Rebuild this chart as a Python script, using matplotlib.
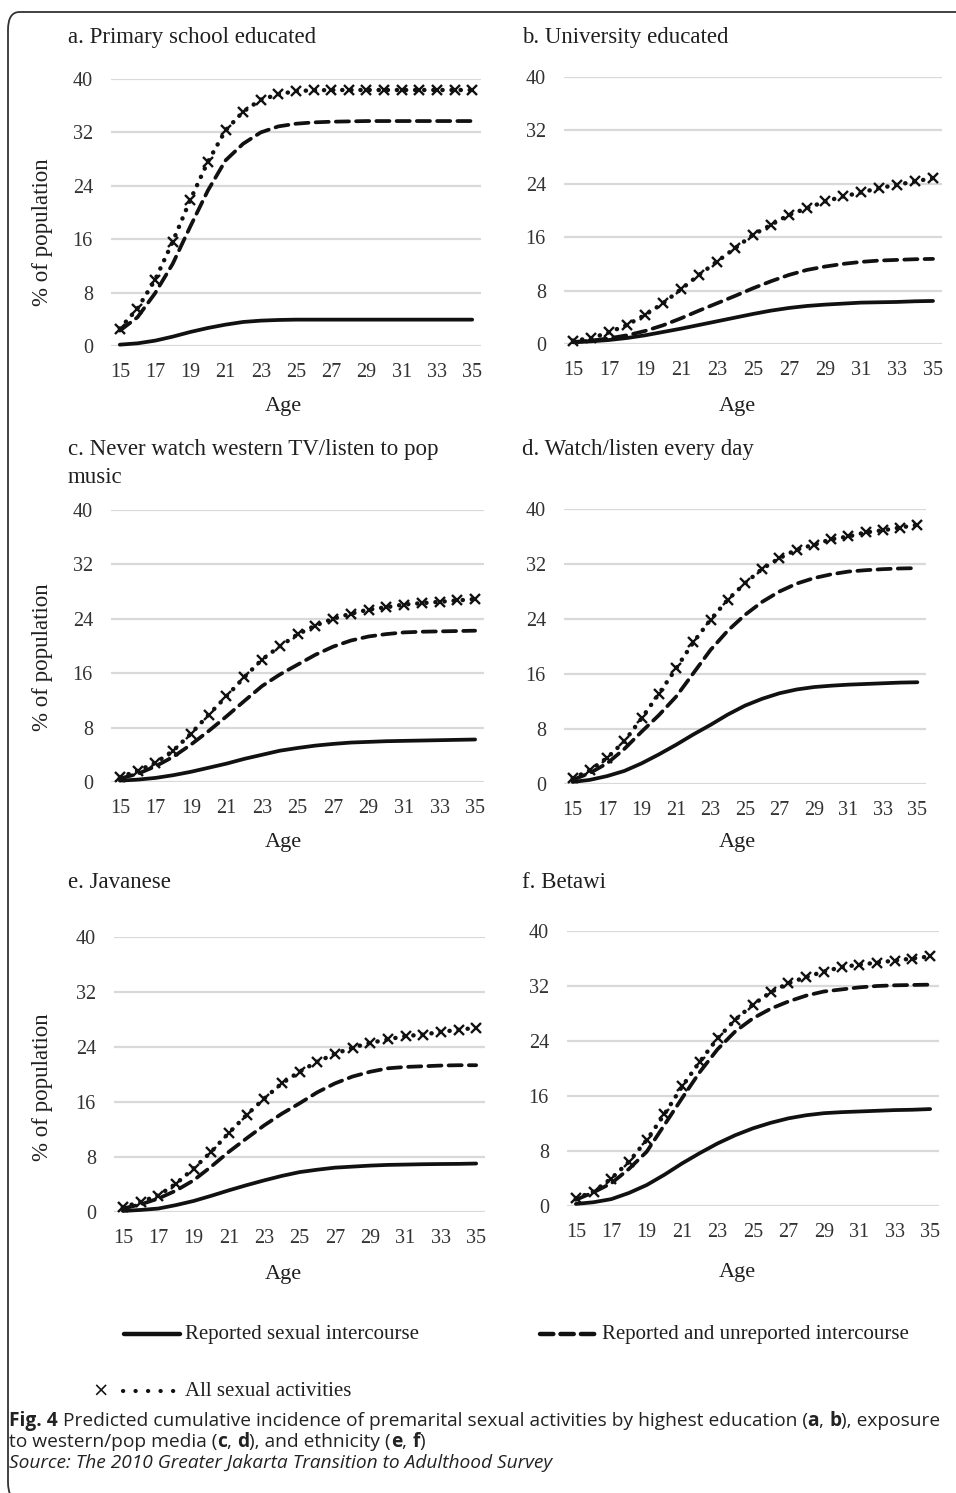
import matplotlib
matplotlib.use("Agg")
import matplotlib.pyplot as plt
from matplotlib.patches import FancyBboxPatch
from matplotlib.lines import Line2D

ages = list(range(15, 36))
tick_ages = list(range(15, 36, 2))
y_ticks = [0, 8, 16, 24, 32, 40]

titles = [["a. Primary school educated"], ["b. University educated"],
          ["c. Never watch western TV/listen to pop", "music"], ["d. Watch/listen every day"],
          ["e. Javanese"], ["f. Betawi"]]

# Reported sexual intercourse (solid)
rep_a = [0.2, 0.4, 0.8, 1.4, 2.1, 2.7, 3.2, 3.6, 3.8, 3.9, 3.95, 3.95, 3.95, 3.95, 3.95, 3.95, 3.95, 3.95, 3.95, 3.95, 3.95]
rep_b = [0.25, 0.4, 0.6, 0.9, 1.3, 1.8, 2.3, 2.85, 3.4, 3.95, 4.5, 5.0, 5.4, 5.7, 5.9, 6.05, 6.2, 6.25, 6.3, 6.4, 6.45]
rep_c = [0.2, 0.35, 0.6, 1.0, 1.5, 2.1, 2.7, 3.4, 4.0, 4.6, 5.0, 5.35, 5.6, 5.8, 5.9, 6.0, 6.05, 6.1, 6.15, 6.2, 6.25]
rep_d = [0.3, 0.6, 1.15, 1.9, 3.0, 4.3, 5.7, 7.2, 8.6, 10.1, 11.4, 12.4, 13.2, 13.75, 14.1, 14.3, 14.45, 14.55, 14.65, 14.75, 14.8]
rep_e = [0.15, 0.3, 0.5, 1.0, 1.6, 2.35, 3.15, 3.9, 4.6, 5.25, 5.8, 6.15, 6.45, 6.6, 6.75, 6.85, 6.9, 6.95, 6.98, 7.0, 7.05]
rep_f = [0.3, 0.55, 1.0, 1.9, 3.05, 4.55, 6.2, 7.7, 9.1, 10.3, 11.3, 12.1, 12.75, 13.2, 13.5, 13.65, 13.75, 13.85, 13.95, 14.0, 14.1]

# Reported and unreported intercourse (dashed)
unr_a = [2.3, 4.3, 7.9, 12.3, 17.9, 23.3, 27.8, 30.3, 32.0, 32.9, 33.3, 33.5, 33.6, 33.65, 33.7, 33.7, 33.7, 33.7, 33.7, 33.7, 33.7]
unr_b = [0.3, 0.5, 0.85, 1.3, 1.95, 2.8, 3.85, 5.0, 6.1, 7.2, 8.35, 9.4, 10.35, 11.1, 11.6, 12.0, 12.3, 12.5, 12.6, 12.7, 12.75]
unr_c = [0.5, 1.2, 2.3, 3.7, 5.5, 7.5, 9.65, 11.9, 14.1, 15.8, 17.25, 18.7, 19.9, 20.8, 21.4, 21.75, 22.0, 22.1, 22.15, 22.2, 22.25]
unr_d = [0.6, 1.6, 3.0, 5.1, 7.6, 10.0, 12.7, 16.1, 19.5, 22.3, 24.6, 26.5, 28.0, 29.15, 29.95, 30.5, 30.9, 31.1, 31.25, 31.35, 31.4]
unr_e = [0.5, 1.1, 1.95, 3.1, 4.6, 6.6, 8.75, 10.7, 12.6, 14.3, 15.8, 17.4, 18.7, 19.7, 20.4, 20.9, 21.1, 21.2, 21.3, 21.35, 21.35]
unr_f = [0.9, 2.0, 3.3, 5.4, 7.9, 11.8, 15.7, 19.5, 22.8, 25.4, 27.3, 28.7, 29.75, 30.6, 31.2, 31.5, 31.8, 32.0, 32.1, 32.15, 32.2]

# All sexual activities (dotted with x markers)
all_a = [2.6, 5.6, 9.9, 15.6, 21.9, 27.6, 32.3, 35.1, 36.9, 37.7, 38.2, 38.3, 38.35, 38.35, 38.35, 38.35, 38.35, 38.35, 38.35, 38.35, 38.35]
all_b = [0.5, 0.85, 1.75, 2.85, 4.35, 6.1, 8.2, 10.35, 12.35, 14.35, 16.35, 17.85, 19.35, 20.35, 21.35, 22.1, 22.7, 23.35, 23.85, 24.35, 24.85]
all_c = [0.7, 1.65, 2.8, 4.6, 7.1, 9.9, 12.6, 15.4, 18.0, 19.95, 21.7, 23.0, 24.0, 24.75, 25.35, 25.7, 26.1, 26.3, 26.5, 26.7, 26.9]
all_d = [0.8, 2.0, 3.8, 6.2, 9.55, 13.1, 16.8, 20.6, 23.9, 26.8, 29.2, 31.3, 32.85, 34.1, 34.8, 35.6, 36.0, 36.6, 36.9, 37.3, 37.7]
all_e = [0.7, 1.45, 2.4, 4.1, 6.3, 8.75, 11.5, 14.1, 16.5, 18.7, 20.4, 21.85, 23.0, 23.9, 24.6, 25.1, 25.6, 25.8, 26.2, 26.5, 26.8]
all_f = [1.1, 2.1, 4.0, 6.45, 9.6, 13.35, 17.4, 21.0, 24.4, 27.1, 29.3, 31.1, 32.4, 33.3, 34.1, 34.75, 35.1, 35.4, 35.7, 36.0, 36.3]

legend_labels = ["Reported sexual intercourse", "Reported and unreported intercourse", "All sexual activities"]

reported = [rep_a, rep_b, rep_c, rep_d, rep_e, rep_f]
unreported = [unr_a, unr_b, unr_c, unr_d, unr_e, unr_f]
allsex = [all_a, all_b, all_c, all_d, all_e, all_f]

W, H = 956, 1493
fig = plt.figure(figsize=(W / 100, H / 100), dpi=100)
SERIF = ["Liberation Serif", "DejaVu Serif"]
TXT = "#1f1f1f"
TICK = "#333333"
INK = "#111111"


def fx(x):
    return x / W


def fy(y):
    return 1 - y / H


# panel geometry in pixels: left, right, y of 40, y of 0
geoms = [(111, 481, 79, 346), (564, 942, 77, 344),
         (111, 484, 510, 782), (564, 926, 509, 784),
         (114, 485, 937, 1212), (567, 939, 931, 1206)]
title_pos = [(68, 37), (522, 37), (68, 450), (522, 450), (68, 883), (522, 883)]
age_pos = [(283, 407), (737, 407), (283, 842), (737, 842), (283, 1275), (737, 1273)]
ylab_pos = [(43, 232), None, (43, 657), None, (43, 1087), None]

for i, (l, r, t, b) in enumerate(geoms):
    ax = fig.add_axes([l / W, 1 - b / H, (r - l) / W, (b - t) / H])
    ax.set_xlim(14.5, 35.5)
    ax.set_ylim(0, 40)
    for s in ax.spines.values():
        s.set_visible(False)
    ax.set_yticks(y_ticks)
    ax.set_xticks(tick_ages)
    ax.tick_params(length=0, labelsize=14.5, labelcolor=TICK)
    ax.tick_params(axis="y", pad=13)
    ax.tick_params(axis="x", pad=12)
    for lab in ax.get_xticklabels() + ax.get_yticklabels():
        lab.set_family(SERIF)
    ax.grid(axis="y", color="#d9d9d9", lw=1.6)
    ax.set_axisbelow(True)
    ax.plot(ages, reported[i], color=INK, lw=2.7, solid_capstyle="round", clip_on=False)
    ax.plot(ages, unreported[i], color=INK, lw=2.7, linestyle=(0, (3.5, 1.9)),
            dash_capstyle="round", clip_on=False)
    ax.plot(ages, allsex[i], color=INK, lw=3.2, linestyle=(0, (0.05, 2.0)),
            dash_capstyle="round", clip_on=False)
    ax.plot(ages, allsex[i], linestyle="none", marker="x", ms=7.5, mew=1.7,
            color=INK, clip_on=False)
    tx, ty = title_pos[i]
    for k, line in enumerate(titles[i]):
        fig.text(fx(tx), fy(ty + 27 * k), line, fontsize=16.5, family=SERIF, color=TXT,
                 ha="left", va="center")
    axp = age_pos[i]
    fig.text(fx(axp[0]), fy(axp[1]), "Age", fontsize=16, family=SERIF, color=TXT,
             ha="center", va="center")
    if ylab_pos[i] is not None:
        yx, yy = ylab_pos[i]
        fig.text(fx(yx), fy(yy), "% of population", fontsize=16.5, family=SERIF,
                 color=TXT, rotation=90, ha="center", va="center")

# legend
LEGS = 15
fig.add_artist(Line2D([fx(124), fx(180)], [fy(1334), fy(1334)], color=INK, lw=3.2,
                      solid_capstyle="round"))
fig.text(fx(185), fy(1334), legend_labels[0], fontsize=LEGS, family=SERIF, color=TXT,
         ha="left", va="center")
fig.add_artist(Line2D([fx(540), fx(597)], [fy(1334), fy(1334)], color=INK, lw=3.2,
                      linestyle=(0, (3.0, 1.6)), dash_capstyle="round"))
fig.text(fx(602), fy(1334), legend_labels[1], fontsize=LEGS, family=SERIF, color=TXT,
         ha="left", va="center")
fig.text(fx(101), fy(1391), "\u00d7", fontsize=14, family=["DejaVu Sans"], color=INK,
         ha="center", va="center")
fig.add_artist(Line2D([fx(123), fx(175)], [fy(1391), fy(1391)], color=INK, lw=3.0,
                      linestyle=(0, (0.05, 2.95)), dash_capstyle="round"))
fig.text(fx(185), fy(1391), legend_labels[2], fontsize=LEGS, family=SERIF, color=TXT,
         ha="left", va="center")

# caption, built from runs so that some letters can be bold
CAP = ["Open Sans", "DejaVu Sans"]
CAPC = "#222222"
CAPS = 13.8
renderer = fig.canvas.get_renderer()


def runs(x0, y, parts):
    x = x0
    for txt, weight, style in parts:
        t = fig.text(x / W, fy(y), txt, fontsize=CAPS, family=CAP, weight=weight,
                     style=style, color=CAPC, ha="left", va="baseline")
        x = t.get_window_extent(renderer).x1


N, B = "normal", "bold"
runs(9, 1426, [("Fig. 4", B, N),
               (" Predicted cumulative incidence of premarital sexual activities by highest education (", N, N),
               ("a", B, N), (", ", N, N), ("b", B, N), ("), exposure", N, N)])
runs(9, 1447, [("to western/pop media (", N, N), ("c", B, N), (", ", N, N), ("d", B, N),
               ("), and ethnicity (", N, N), ("e", B, N), (", ", N, N), ("f", B, N), (")", N, N)])
runs(9, 1468, [("Source: The 2010 Greater Jakarta Transition to Adulthood Survey", N, "italic")])

# border
border = FancyBboxPatch((fx(8), fy(1500)), (980 - 8) / W, (1500 - 12) / H,
                        boxstyle="round,pad=0,rounding_size=0.012",
                        transform=fig.transFigure, fill=False, ec="#333333", lw=1.3,
                        clip_on=False)
fig.add_artist(border)

fig.savefig("out.png", dpi=100)
